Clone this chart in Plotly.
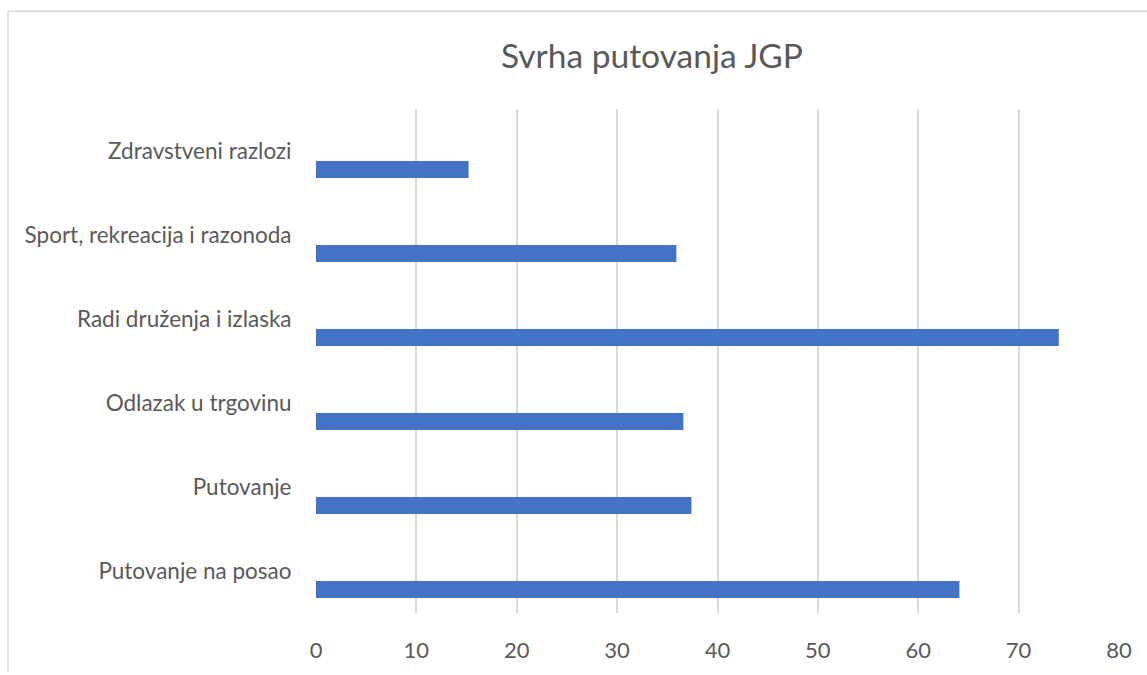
import plotly.graph_objects as go

# Purpose of public transport trips (bottom to top on the chart)
categories = [
    "Putovanje na posao",
    "Putovanje",
    "Odlazak u trgovinu",
    "Radi druženja i izlaska",
    "Sport, rekreacija i razonoda",
    "Zdravstveni razlozi",
]
values = [64.1, 37.4, 36.6, 74.0, 35.9, 15.2]
x_ticks = [0, 10, 20, 30, 40, 50, 60, 70, 80]
title_text = "Svrha putovanja JGP"

W, H = 1147, 675
M_L, M_R, M_T, M_B = 316, 28, 109, 55
plot_w = W - M_L - M_R
plot_h = H - M_T - M_B

text_color = "#595959"
grid_color = "#d9d9d9"
bar_color = "#4472C4"
font_family = "Lato, 'Open Sans', sans-serif"

fig = go.Figure(
    go.Bar(
        y=categories,
        x=values,
        orientation="h",
        marker=dict(color=bar_color, line=dict(width=0)),
        width=0.2,
        offset=-0.32,
        hoverinfo="x+y",
    )
)


def px_to_paper_x(px):
    return (px - M_L) / plot_w


def px_to_paper_y(py):
    return (H - M_B - py) / plot_h


# Chart-area frame (left and top edges)
frame = dict(type="line", xref="paper", yref="paper",
             line=dict(color=grid_color, width=1.5), layer="below")
fig.add_shape(**frame, x0=px_to_paper_x(8), x1=px_to_paper_x(W + 5),
              y0=px_to_paper_y(10), y1=px_to_paper_y(10))
fig.add_shape(**frame, x0=px_to_paper_x(8), x1=px_to_paper_x(8),
              y0=px_to_paper_y(10), y1=px_to_paper_y(H + 5))

fig.add_annotation(
    text=title_text,
    xref="paper", yref="paper",
    x=px_to_paper_x(652), y=px_to_paper_y(54),
    xanchor="center", yanchor="middle",
    showarrow=False,
    font=dict(family=font_family, size=33.5, color=text_color),
)

fig.update_layout(
    width=W,
    height=H,
    margin=dict(l=M_L, r=M_R, t=M_T, b=M_B, pad=0),
    paper_bgcolor="white",
    plot_bgcolor="white",
    showlegend=False,
    font=dict(family=font_family, color=text_color),
    xaxis=dict(
        range=[0, 80],
        tickvals=x_ticks,
        ticktext=[str(v) for v in x_ticks],
        showgrid=True,
        gridcolor=grid_color,
        gridwidth=1.6,
        zeroline=False,
        showline=False,
        ticks="outside",
        ticklen=18,
        tickcolor="rgba(0,0,0,0)",
        tickfont=dict(size=22, color=text_color),
        fixedrange=True,
    ),
    yaxis=dict(
        type="category",
        categoryorder="array",
        categoryarray=categories,
        range=[-0.5, len(categories) - 0.5],
        showgrid=False,
        zeroline=False,
        showline=False,
        ticks="outside",
        ticklen=19,
        tickcolor="rgba(0,0,0,0)",
        tickfont=dict(size=22.5, color=text_color),
        fixedrange=True,
    ),
)

fig.write_html("out.html")
